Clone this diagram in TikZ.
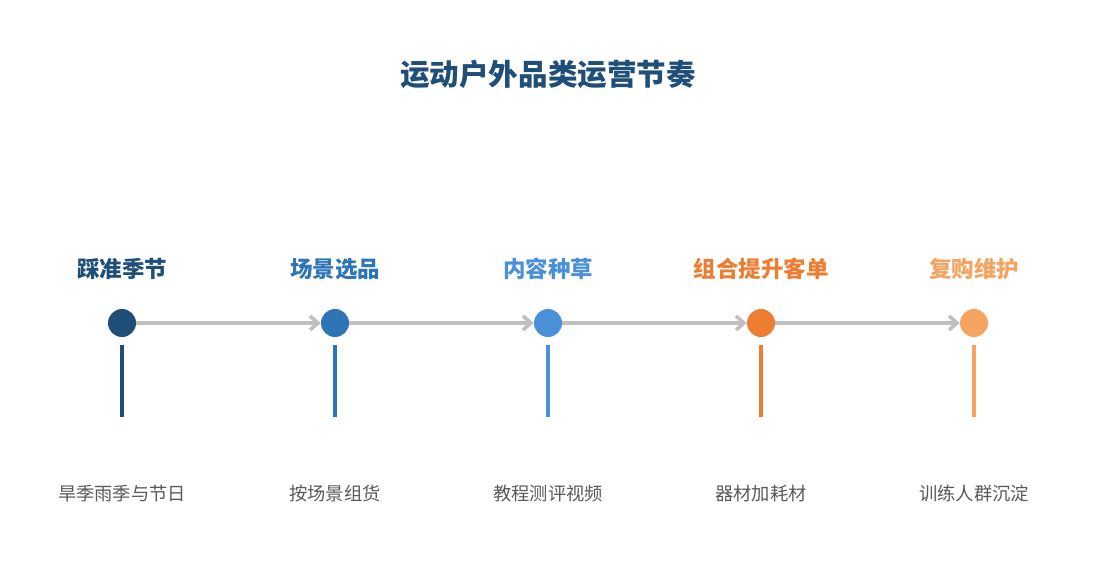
\documentclass[tikz,border=0pt]{standalone}
\usepackage{fontspec}
\setmainfont{Noto Sans CJK SC}
\usetikzlibrary{positioning,arrows.meta}
\definecolor{cA}{HTML}{1F4E79}
\definecolor{cB}{HTML}{2E75B6}
\definecolor{cC}{HTML}{4A90D9}
\definecolor{cD}{HTML}{ED7D31}
\definecolor{cE}{HTML}{F4A460}
\definecolor{link}{HTML}{BFBFBF}
\tikzset{
  dot/.style={circle, fill=#1, minimum size=7mm, inner sep=0pt},
  stage/.style={font=\bfseries\fontsize{16}{18}\selectfont, text=#1},
  note/.style={font=\fontsize{13}{15}\selectfont, text=black!65},
  stem/.style={line width=1mm, draw=#1},
  flow/.style={line width=0.9mm, draw=link, -{Straight Barb[length=2mm,width=3.5mm]}}
}
\begin{document}
\begin{tikzpicture}[x=0.025cm,y=-0.025cm]
	\useasboundingbox (0,0) rectangle (1095,585);
	\node[font=\bfseries\fontsize{21}{24}\selectfont, text=cA] (title) at (548,74) {运动户外品类运营节奏};

	\path
	(122,323) node[dot=cA] (p1) {}
	(335,323) node[dot=cB] (p2) {}
	(548,323) node[dot=cC] (p3) {}
	(761,323) node[dot=cD] (p4) {}
	(974,323) node[dot=cE] (p5) {};

	\draw[flow] (p1) -- (p2);
	\draw[flow] (p2) -- (p3);
	\draw[flow] (p3) -- (p4);
	\draw[flow] (p4) -- (p5);

	\node[stage=cA] (s1) at (122,269) {踩准季节};
	\node[stage=cB] (s2) at (335,269) {场景选品};
	\node[stage=cC] (s3) at (548,269) {内容种草};
	\node[stage=cD] (s4) at (761,269) {组合提升客单};
	\node[stage=cE] (s5) at (974,269) {复购维护};

	\foreach \i/\c in {1/cA,2/cB,3/cC,4/cD,5/cE}
		\draw[stem=\c] ([yshift=-0.55cm]p\i.center) -- ++(0,-1.8cm);

	\node[note] (n1) at (122,494) {旱季雨季与节日};
	\node[note] (n2) at (335,494) {按场景组货};
	\node[note] (n3) at (548,494) {教程测评视频};
	\node[note] (n4) at (761,494) {器材加耗材};
	\node[note] (n5) at (974,494) {训练人群沉淀};
\end{tikzpicture}
\end{document}
